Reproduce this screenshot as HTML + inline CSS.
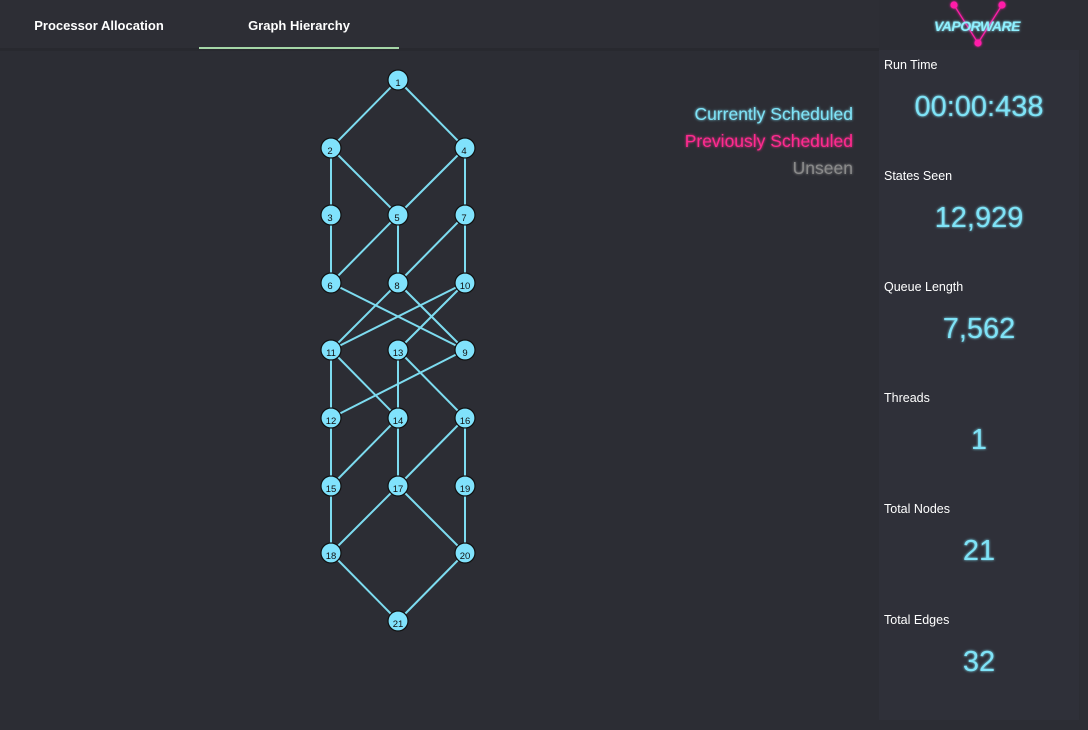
<!DOCTYPE html>
<html><head><meta charset="utf-8">
<style>
html,body{margin:0;padding:0;background:#2c2d34;width:1088px;height:730px;overflow:hidden;}
svg{display:block;}
text{font-family:"Liberation Sans",sans-serif;}
</style></head><body>
<svg width="1088" height="730" viewBox="0 0 1088 730" xmlns="http://www.w3.org/2000/svg">
<defs>
<filter id="glow" x="-20%" y="-50%" width="140%" height="200%"><feGaussianBlur stdDeviation="1.4" result="b"/><feMerge><feMergeNode in="b"/><feMergeNode in="SourceGraphic"/></feMerge></filter>
</defs>
<rect width="1088" height="730" fill="#2c2d34"/>
<rect x="0" y="0" width="879" height="48" fill="#2d2e35"/>
<rect x="0" y="48" width="879" height="3" fill="#28292f"/>
<rect x="199" y="47" width="200" height="2" fill="#a5d6a7"/>
<text x="99" y="30" font-size="13" font-weight="bold" fill="#ffffff" text-anchor="middle">Processor Allocation</text>
<text x="299" y="30" font-size="13" font-weight="bold" fill="#ffffff" text-anchor="middle">Graph Hierarchy</text>

<rect x="879" y="50" width="200" height="670" fill="#2f3039"/>
<!-- logo -->
<g stroke="#ff1fa8" stroke-width="1.2" fill="#ff1fa8" filter="url(#glow)">
<line x1="954" y1="5" x2="978" y2="43"/><line x1="1002" y1="5" x2="978" y2="43"/>
<circle cx="954" cy="5" r="3"/><circle cx="1002" cy="5" r="3"/><circle cx="978" cy="43" r="3"/>
</g>
<text x="977" y="31" font-size="14" font-weight="bold" font-style="italic" fill="#8ff0ff" text-anchor="middle" filter="url(#glow)" letter-spacing="-0.5">VAPORWARE</text>

<g font-size="12.5" fill="#ffffff">
<text x="884" y="69">Run Time</text>
<text x="884" y="180">States Seen</text>
<text x="884" y="291">Queue Length</text>
<text x="884" y="402">Threads</text>
<text x="884" y="513">Total Nodes</text>
<text x="884" y="624">Total Edges</text>
</g>
<g font-size="29" fill="#7fe3f7" text-anchor="middle" filter="url(#glow)">
<text x="979" y="116">00:00:438</text>
<text x="979" y="227">12,929</text>
<text x="979" y="338">7,562</text>
<text x="979" y="449">1</text>
<text x="979" y="560">21</text>
<text x="979" y="671">32</text>
</g>

<g font-size="17.5" text-anchor="end" filter="url(#glow)">
<text x="853" y="120" fill="#7fe3f7">Currently Scheduled</text>
<text x="853" y="147" fill="#ff2a8f">Previously Scheduled</text>
<text x="853" y="174" fill="#8a8a8a">Unseen</text>
</g>

<g stroke="#7ddcf0" stroke-width="2">
<line x1="398" y1="80" x2="331" y2="148"/><line x1="398" y1="80" x2="465" y2="148"/>
<line x1="331" y1="148" x2="331" y2="215"/><line x1="331" y1="148" x2="398" y2="215"/>
<line x1="465" y1="148" x2="398" y2="215"/><line x1="465" y1="148" x2="465" y2="215"/>
<line x1="331" y1="215" x2="331" y2="283"/>
<line x1="398" y1="215" x2="331" y2="283"/><line x1="398" y1="215" x2="398" y2="283"/>
<line x1="465" y1="215" x2="398" y2="283"/><line x1="465" y1="215" x2="465" y2="283"/>
<line x1="331" y1="283" x2="465" y2="350"/>
<line x1="398" y1="283" x2="465" y2="350"/><line x1="398" y1="283" x2="331" y2="350"/>
<line x1="465" y1="283" x2="331" y2="350"/><line x1="465" y1="283" x2="398" y2="350"/>
<line x1="331" y1="350" x2="331" y2="418"/><line x1="331" y1="350" x2="398" y2="418"/>
<line x1="398" y1="350" x2="398" y2="418"/><line x1="398" y1="350" x2="465" y2="418"/>
<line x1="465" y1="350" x2="331" y2="418"/>
<line x1="331" y1="418" x2="331" y2="486"/>
<line x1="398" y1="418" x2="331" y2="486"/><line x1="398" y1="418" x2="398" y2="486"/>
<line x1="465" y1="418" x2="398" y2="486"/><line x1="465" y1="418" x2="465" y2="486"/>
<line x1="331" y1="486" x2="331" y2="553"/>
<line x1="398" y1="486" x2="331" y2="553"/><line x1="398" y1="486" x2="465" y2="553"/>
<line x1="465" y1="486" x2="465" y2="553"/>
<line x1="331" y1="553" x2="398" y2="621"/><line x1="465" y1="553" x2="398" y2="621"/>
</g>
<g fill="#80e2fc" stroke="#111" stroke-width="1.2">
<circle cx="398" cy="80" r="10"/>
<circle cx="331" cy="148" r="10"/><circle cx="465" cy="148" r="10"/>
<circle cx="331" cy="215" r="10"/><circle cx="398" cy="215" r="10"/><circle cx="465" cy="215" r="10"/>
<circle cx="331" cy="283" r="10"/><circle cx="398" cy="283" r="10"/><circle cx="465" cy="283" r="10"/>
<circle cx="331" cy="350" r="10"/><circle cx="398" cy="350" r="10"/><circle cx="465" cy="350" r="10"/>
<circle cx="331" cy="418" r="10"/><circle cx="398" cy="418" r="10"/><circle cx="465" cy="418" r="10"/>
<circle cx="331" cy="486" r="10"/><circle cx="398" cy="486" r="10"/><circle cx="465" cy="486" r="10"/>
<circle cx="331" cy="553" r="10"/><circle cx="465" cy="553" r="10"/>
<circle cx="398" cy="621" r="10"/>
</g>
<g font-size="9.5" fill="#111" text-anchor="middle">
<text x="398" y="86">1</text>
<text x="330" y="154">2</text><text x="464" y="154">4</text>
<text x="330" y="221">3</text><text x="397" y="221">5</text><text x="464" y="221">7</text>
<text x="330" y="289">6</text><text x="397" y="289">8</text><text x="465" y="289">10</text>
<text x="331" y="356">11</text><text x="398" y="356">13</text><text x="465" y="356">9</text>
<text x="331" y="424">12</text><text x="398" y="424">14</text><text x="465" y="424">16</text>
<text x="331" y="492">15</text><text x="398" y="492">17</text><text x="465" y="492">19</text>
<text x="331" y="559">18</text><text x="465" y="559">20</text>
<text x="398" y="627">21</text>
</g>
</svg>
</body></html>
